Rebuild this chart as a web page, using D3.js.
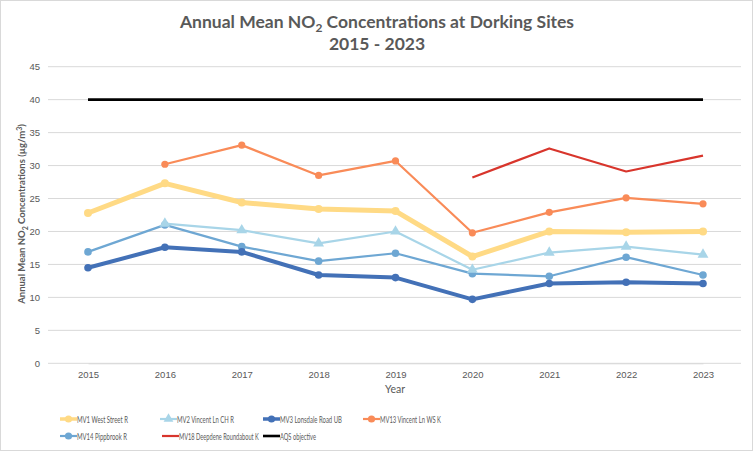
<!DOCTYPE html>
<html><head><meta charset="utf-8">
<script src="https://cdn.jsdelivr.net/npm/d3@7"></script>
<style>body{margin:0;background:#fff;} svg{display:block;font-family:Lato,"Open Sans",sans-serif;}</style>
</head><body><svg id="c" width="753" height="451"></svg>
<script>
const years = [2015,2016,2017,2018,2019,2020,2021,2022,2023];
const yTicks = [0,5,10,15,20,25,30,35,40,45];
const mv1 = [22.8,27.3,24.4,23.4,23.1,16.2,20.0,19.9,20.0];
const mv2 = [null,21.2,20.2,18.2,20.0,14.2,16.8,17.7,16.5];
const mv3 = [14.5,17.6,16.9,13.4,13.0,9.7,12.1,12.3,12.1];
const mv13 = [null,30.2,33.1,28.5,30.7,19.8,22.9,25.1,24.2];
const mv14 = [16.9,21.0,17.7,15.5,16.7,13.6,13.2,16.1,13.4];
const mv18 = [null,null,null,null,null,28.2,32.6,29.1,31.5];
const aqs = [40,40,40,40,40,40,40,40,40];
const seriesNames = ["MV1 West Street R","MV2 Vincent Ln CH R","MV3 Lonsdale Road UB","MV13 Vincent Ln WS K","MV14 Pippbrook R","MV18 Deepdene Roundabout K","AQS objective"];

const series = [
  {name:seriesNames[0], values:mv1, color:"#FFDA85", width:5, marker:"circle", r:4},
  {name:seriesNames[1], values:mv2, color:"#A8D5E8", width:2.2, marker:"triangle", r:4},
  {name:seriesNames[2], values:mv3, color:"#4371B7", width:4, marker:"circle", r:3.8},
  {name:seriesNames[3], values:mv13, color:"#F98B58", width:2.2, marker:"circle", r:3.6},
  {name:seriesNames[4], values:mv14, color:"#6EA7D3", width:2.2, marker:"circle", r:3.8},
  {name:seriesNames[5], values:mv18, color:"#D8352C", width:2.2, marker:null, r:0},
  {name:seriesNames[6], values:aqs, color:"#000000", width:2.6, marker:null, r:0}
];
const drawOrder = [6,4,1,2,3,5,0];

const svg = d3.select("#c");
svg.append("rect").attr("x",0.5).attr("y",0.5).attr("width",752).attr("height",450)
  .attr("fill","#fff").attr("stroke","#d9d9d9");

const x = d3.scalePoint().domain(years).range([88,703]);
const y = d3.scaleLinear().domain([0,45]).range([363.3,66.7]);
const txt = "#595959";

// grid
svg.append("g").selectAll("line").data(yTicks).join("line")
  .attr("x1",48).attr("x2",741).attr("y1",d=>y(d)).attr("y2",d=>y(d))
  .attr("stroke","#d9d9d9").attr("stroke-width",1);

// axes
const yAxis = svg.append("g").attr("transform","translate(48,0)")
  .call(d3.axisLeft(y).tickValues(yTicks).tickSize(0).tickPadding(8));
yAxis.select(".domain").remove();
yAxis.selectAll("text").attr("fill",txt).attr("font-size",9.5);

const xAxis = svg.append("g").attr("transform","translate(0,363.3)")
  .call(d3.axisBottom(x).tickSize(0).tickPadding(8).tickFormat(d3.format("d")));
xAxis.select(".domain").attr("stroke","#d9d9d9");
xAxis.selectAll("text").attr("fill",txt).attr("font-size",9.5);

svg.append("text").attr("x",395).attr("y",393).attr("text-anchor","middle")
  .attr("fill",txt).attr("font-size",10.5).text("Year");

// y label
const yl = svg.append("text").attr("transform","translate(25,214) rotate(-90)")
  .attr("text-anchor","middle").attr("fill",txt).attr("font-size",9.5).attr("font-weight","bold");
yl.append("tspan").text("Annual Mean NO");
yl.append("tspan").attr("font-size",7).attr("dy",2.5).text("2");
yl.append("tspan").attr("dy",-2.5).text(" Concentrations (µg/m");
yl.append("tspan").attr("font-size",7).attr("dy",-3.5).text("3");
yl.append("tspan").attr("dy",3.5).text(")");

// title
const t1 = svg.append("text").attr("x",377).attr("y",28).attr("text-anchor","middle")
  .attr("fill",txt).attr("font-size",17.5).attr("font-weight","bold");
t1.append("tspan").text("Annual Mean NO");
t1.append("tspan").attr("font-size",12).attr("dy",4).text("2");
t1.append("tspan").attr("dy",-4).text(" Concentrations at Dorking Sites");
svg.append("text").attr("x",377).attr("y",50).attr("text-anchor","middle")
  .attr("fill",txt).attr("font-size",17.5).attr("font-weight","bold").text("2015 - 2023");

const line = d3.line().defined(d=>d.v!=null).x(d=>x(d.yr)).y(d=>y(d.v));
function drawMarker(g, type, cx, cy, r, color){
  if(type==="circle") g.append("circle").attr("cx",cx).attr("cy",cy).attr("r",r).attr("fill",color);
  else if(type==="triangle") g.append("path")
    .attr("d",d3.symbol(d3.symbolTriangle, r*r*3.2)()).attr("transform",`translate(${cx},${cy})`).attr("fill",color);
}
drawOrder.forEach(i=>{
  const s = series[i];
  const data = years.map((yr,k)=>({yr, v:s.values[k]}));
  const g = svg.append("g");
  g.append("path").attr("d",line(data)).attr("fill","none").attr("stroke",s.color)
    .attr("stroke-width",s.width).attr("stroke-linejoin","round");
  if(s.marker) data.filter(d=>d.v!=null).forEach(d=>drawMarker(g,s.marker,x(d.yr),y(d.v),s.r,s.color));
});

// legend
const legPos = [[60,419],[160,419],[263,419],[363,419],[60,436],[162,436],[263,436]];
const legW = [51,57,62,61,50,80,36];
series.forEach((s,i)=>{
  const [lx,ly] = legPos[i];
  const g = svg.append("g");
  g.append("line").attr("x1",lx).attr("x2",lx+17).attr("y1",ly).attr("y2",ly)
    .attr("stroke",s.color).attr("stroke-width",Math.min(s.width,3.5));
  if(s.marker) drawMarker(g,s.marker,lx+8.5,ly,3.6,s.color);
  const tg = g.append("g");
  const t = tg.append("text").attr("x",0).attr("y",3.5).attr("fill",txt).attr("font-size",10).text(s.name);
  const nat = t.node().getComputedTextLength();
  tg.attr("transform",`translate(${lx+17},${ly}) scale(${legW[i]/nat},1)`);
});
</script></body></html>
